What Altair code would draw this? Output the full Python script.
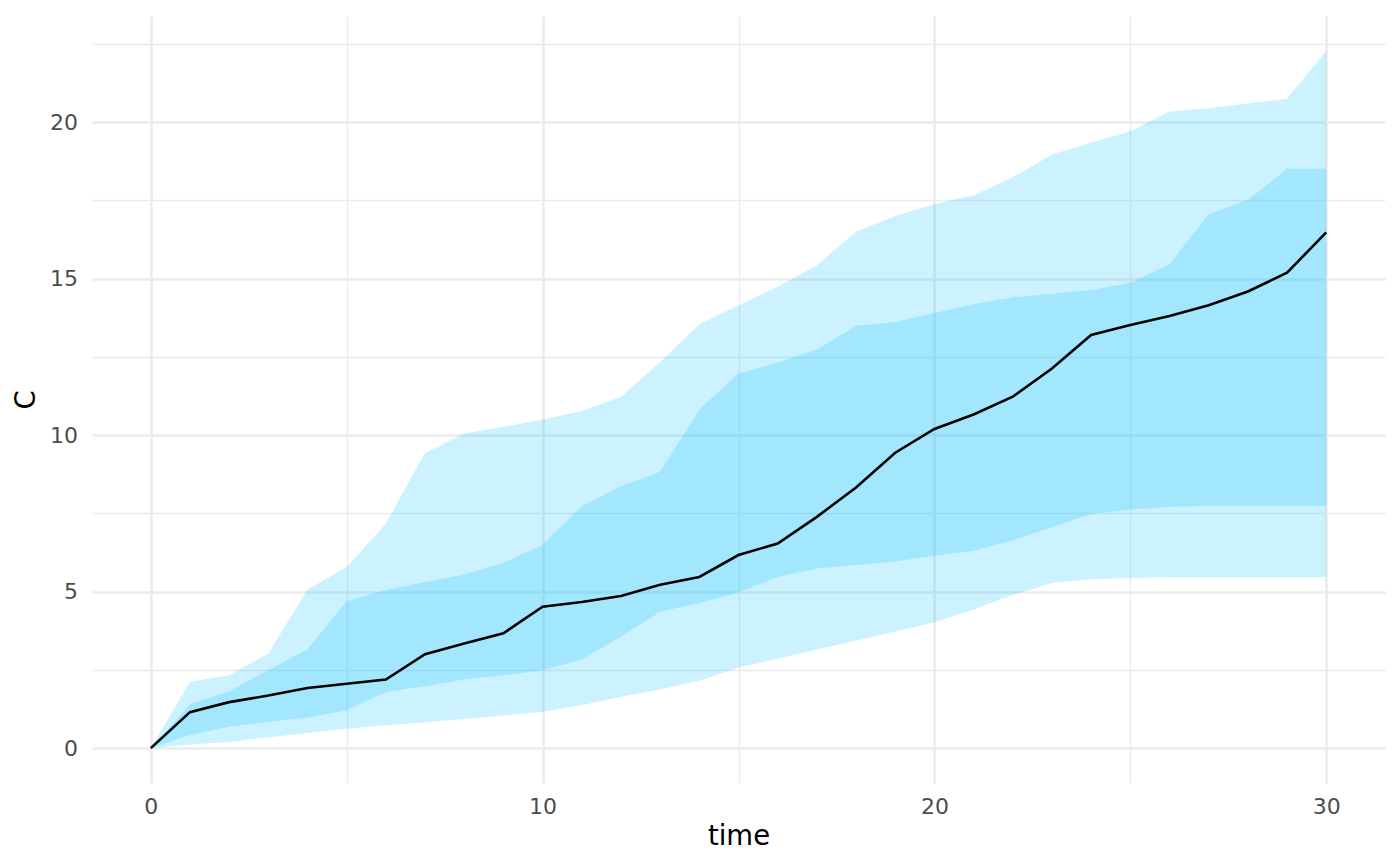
import altair as alt
import pandas as pd

time = list(range(31))

median = [0, 1.15, 1.47, 1.68, 1.92, 2.06, 2.19, 3.0, 3.34, 3.67, 4.52,
          4.67, 4.86, 5.22, 5.47, 6.17, 6.54, 7.39, 8.33, 9.44, 10.2,
          10.66, 11.23, 12.13, 13.2, 13.52, 13.81, 14.15, 14.59, 15.19, 16.48]

outer_hi = [0, 2.12, 2.33, 3.02, 5.07, 5.79, 7.18, 9.43, 10.05, 10.27, 10.5,
            10.77, 11.23, 12.34, 13.54, 14.15, 14.74, 15.43, 16.5, 17.0, 17.38,
            17.67, 18.24, 18.97, 19.35, 19.71, 20.34, 20.45, 20.6, 20.75, 22.28]

inner_hi = [0, 1.4, 1.82, 2.49, 3.16, 4.7, 5.05, 5.31, 5.55, 5.92, 6.5,
            7.73, 8.38, 8.83, 10.82, 11.97, 12.32, 12.74, 13.5, 13.62, 13.9,
            14.18, 14.41, 14.52, 14.64, 14.86, 15.47, 17.06, 17.52, 18.51, 18.51]

inner_lo = [0, 0.42, 0.68, 0.84, 0.97, 1.21, 1.79, 1.98, 2.19, 2.33, 2.49,
            2.84, 3.56, 4.36, 4.64, 4.97, 5.47, 5.74, 5.85, 5.96, 6.15,
            6.3, 6.64, 7.06, 7.48, 7.62, 7.71, 7.74, 7.74, 7.74, 7.74]

outer_lo = [0, 0.12, 0.2, 0.34, 0.48, 0.62, 0.73, 0.83, 0.93, 1.04, 1.16,
            1.37, 1.64, 1.87, 2.15, 2.58, 2.86, 3.15, 3.43, 3.72, 4.02,
            4.43, 4.89, 5.28, 5.4, 5.44, 5.46, 5.46, 5.46, 5.46, 5.46]

x_ticks = [0, 5, 10, 15, 20, 25, 30]
y_ticks = [0, 2.5, 5, 7.5, 10, 12.5, 15, 17.5, 20, 22.5]

df = pd.DataFrame({
    "time": time, "median": median,
    "outer_lo": outer_lo, "outer_hi": outer_hi,
    "inner_lo": inner_lo, "inner_hi": inner_hi,
})

FONT = "DejaVu Sans"

x_axis = alt.Axis(
    values=x_ticks,
    labelExpr="datum.value % 10 === 0 ? datum.label : ''",
    gridWidth={"condition": {"test": "datum.value % 10 === 0", "value": 2.6}, "value": 1.3},
    gridColor="#ebebeb",
    domain=False, ticks=False,
    labelFontSize=22, labelColor="#4d4d4d", labelFont=FONT, labelPadding=13,
    title="time", titleFontSize=27.5, titleFont=FONT, titleColor="#000000",
    titleFontWeight="normal", titlePadding=5,
)
y_axis = alt.Axis(
    values=y_ticks,
    labelExpr="datum.value % 5 === 0 ? datum.label : ''",
    gridWidth={"condition": {"test": "datum.value % 5 === 0", "value": 2.6}, "value": 1.3},
    gridColor="#ebebeb",
    domain=False, ticks=False,
    labelFontSize=22, labelColor="#4d4d4d", labelFont=FONT, labelPadding=14.5,
    title="C", titleFontSize=27.5, titleFont=FONT, titleColor="#000000",
    titleFontWeight="normal", titlePadding=9,
)

xs = alt.Scale(domain=[-1.5, 31.5], nice=False, zero=False)
ys = alt.Scale(domain=[-1.114, 23.394], nice=False, zero=False)

base = alt.Chart(df)

outer = base.mark_area(color="#00bfff", opacity=0.2).encode(
    x=alt.X("time:Q", scale=xs, axis=x_axis),
    y=alt.Y("outer_lo:Q", scale=ys, axis=y_axis),
    y2="outer_hi:Q",
)
inner = base.mark_area(color="#00bfff", opacity=0.2).encode(
    x=alt.X("time:Q", scale=xs, axis=x_axis),
    y=alt.Y("inner_lo:Q", scale=ys, axis=y_axis),
    y2="inner_hi:Q",
)
line = base.mark_line(color="#000000", strokeWidth=2.6).encode(
    x=alt.X("time:Q", scale=xs, axis=x_axis),
    y=alt.Y("median:Q", scale=ys, axis=y_axis),
)

chart = alt.layer(outer, inner, line).properties(
    width=1293, height=767,
    autosize=alt.AutoSizeParams(type="none"),
    padding={"left": 84, "top": 8, "right": 5, "bottom": 70},
    background="white",
).configure_view(stroke=None)

chart.save("out.html", embed_options={"renderer": "svg", "actions": False})
